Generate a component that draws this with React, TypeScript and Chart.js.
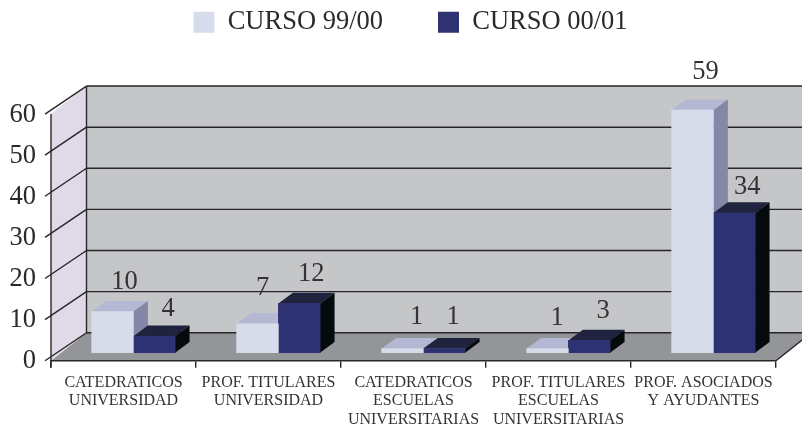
import React, { useEffect, useRef } from "react";
import { Chart, registerables } from "chart.js";

Chart.register(...registerables);

const categories: string[][] = [
  ["CATEDRATICOS", "UNIVERSIDAD"],
  ["PROF. TITULARES", "UNIVERSIDAD"],
  ["CATEDRATICOS", "ESCUELAS", "UNIVERSITARIAS"],
  ["PROF. TITULARES", "ESCUELAS", "UNIVERSITARIAS"],
  ["PROF. ASOCIADOS", "Y AYUDANTES"],
];
const curso9900 = [10, 7, 1, 1, 59];
const curso0001 = [4, 12, 1, 3, 34];
const seriesNames = ["CURSO 99/00", "CURSO 00/01"];
const gridValues = [0, 10, 20, 30, 40, 50, 60];

const SERIF = "'Liberation Serif', 'Times New Roman', serif";
const INK = "#2a2a2c";
const LINE = "#26262a";

// projection of the 3D look, in px
const FLOOR_FRONT = 8; // front floor edge below the bars' base
const FLOOR_BACK = 20; // back floor edge above the bars' base
const WALL_DX = 35.5;
const BAR_DX = 14.5;
const BAR_DY = 10.7;

const faces = [
  { top: "#b4b8d3", side: "#8488a6" },
  { top: "#20233d", side: "#050a0c" },
];
// fine adjustment of the value labels: [series][category] => [dx, dy]
const labelNudge: number[][][] = [
  [[12, -30], [5, -36], [14, -31.5], [9.5, -31], [13, -38]],
  [[14, -27], [12, -29], [9, -31.5], [14, -29], [13, -26]],
];

const poly = (ctx: CanvasRenderingContext2D, pts: number[][], fill: string) => {
  ctx.beginPath();
  pts.forEach((p, i) => (i ? ctx.lineTo(p[0], p[1]) : ctx.moveTo(p[0], p[1])));
  ctx.closePath();
  ctx.fillStyle = fill;
  ctx.fill();
};

const stagePlugin = {
  id: "stage",
  beforeDraw(chart: any) {
    const { ctx, width, chartArea } = chart;
    const y = chart.scales.y;
    const L = chartArea.left;
    const R = chartArea.right;
    const bL = L + WALL_DX;
    const front = (v: number) => y.getPixelForValue(v) + FLOOR_FRONT;
    const back = (v: number) => y.getPixelForValue(v) - FLOOR_BACK;
    const top = gridValues[gridValues.length - 1];
    ctx.save();
    poly(ctx, [[bL, back(top)], [width, back(top)], [width, back(0)], [bL, back(0)]], "#c5c6c8");
    poly(ctx, [[L, front(top)], [bL, back(top)], [bL, back(0)], [L, front(0)]], "#dfd9e8");
    poly(ctx, [[L, front(0)], [bL, back(0)], [R + WALL_DX, back(0)], [R, front(0)]], "#939598");
    ctx.strokeStyle = LINE;
    ctx.lineWidth = 1.4;
    const seg = (a: number, b: number, c: number, d: number) => {
      ctx.beginPath();
      ctx.moveTo(a, b);
      ctx.lineTo(c, d);
      ctx.stroke();
    };
    gridValues.forEach((v) => {
      seg(bL, back(v), width, back(v));
      seg(L - 6, front(v), bL, back(v));
    });
    seg(L, front(top), L, front(0) + 7);
    seg(bL, back(top), bL, back(0));
    seg(R, front(0), R + WALL_DX, back(0));
    ctx.restore();
  },
  beforeDatasetsDraw(chart: any) {
    const { ctx } = chart;
    // depth faces, series by series, so that the right-hand bars cover the side of the left ones
    [0, 1].forEach((index) => {
      const f = faces[index];
      chart.getDatasetMeta(index).data.forEach((el: any) => {
        const { x, y, base, width } = el.getProps(["x", "y", "base", "width"], true);
        const l = x - width / 2;
        const r = x + width / 2;
        poly(ctx, [[l, y], [r, y], [r + BAR_DX, y - BAR_DY], [l + BAR_DX, y - BAR_DY]], f.top);
        poly(ctx, [[r, y], [r + BAR_DX, y - BAR_DY], [r + BAR_DX, base - BAR_DY], [r, base]], f.side);
      });
    });
  },
  afterDatasetsDraw(chart: any) {
    const { ctx } = chart;
    ctx.save();
    ctx.font = `26.5px ${SERIF}`;
    ctx.fillStyle = "#333335";
    ctx.textAlign = "center";
    ctx.textBaseline = "middle";
    chart.data.datasets.forEach((ds: any, i: number) => {
      chart.getDatasetMeta(i).data.forEach((el: any, j: number) => {
        const { x, y } = el.getProps(["x", "y"], true);
        ctx.fillText(String(ds.data[j].y), x + labelNudge[i][j][0], y + labelNudge[i][j][1]);
      });
    });
    ctx.restore();
  },
};

export default function App() {
  const ref = useRef<HTMLCanvasElement>(null);
  useEffect(() => {
    const chart = new Chart(ref.current as HTMLCanvasElement, {
      type: "bar",
      data: {
        labels: categories as any,
        datasets: [
          {
            label: seriesNames[0],
            data: curso9900.map((v, i) => ({ x: i, y: v })),
            backgroundColor: "#d6dcea",
            xAxisID: "xBars",
            yAxisID: "y",
            barThickness: 41.7,
          },
          {
            label: seriesNames[1],
            data: curso0001.map((v, i) => ({ x: i, y: v })),
            backgroundColor: "#2f3272",
            xAxisID: "xBars",
            yAxisID: "y",
            barThickness: 41.7,
          },
        ] as any,
      },
      options: {
        animation: false,
        responsive: false,
        layout: { padding: { left: 45, right: 26, top: -46, bottom: 0 } },
        plugins: {
          tooltip: { enabled: false },
          title: {
            display: true,
            text: "",
            weight: 500,
            font: { size: 10, lineHeight: 1 },
            padding: { top: 15.1, bottom: 15.2 },
          },
          legend: {
            display: true,
            position: "top",
            labels: {
              boxWidth: 21,
              boxHeight: 21,
              padding: 55,
              color: INK,
              font: { family: SERIF, size: 26.5 },
            },
          } as any,
        },
        scales: {
          x: {
            type: "category",
            position: "bottom",
            offset: true,
            grid: { offset: true, drawOnChartArea: false, tickLength: 7, color: LINE, lineWidth: 1.4 },
            border: { display: true, color: LINE, width: 1.6 },
            ticks: {
              autoSkip: false,
              maxRotation: 0,
              minRotation: 0,
              padding: 6,
              color: "#333335",
              font: { family: SERIF, size: 16, lineHeight: 1.145 },
            },
            afterFit: (s: any) => {
              s.height = 65.3;
            },
          },
          xBars: {
            type: "linear",
            display: false,
            offset: false,
            grid: { offset: false },
            min: -0.568,
            max: 4.432,
          },
          y: { type: "linear", display: false, min: -1.94, max: 64.93 },
          yAxis: {
            type: "linear",
            position: "left",
            display: true,
            min: 0,
            max: 67.1,
            grid: { display: false, drawTicks: false },
            border: { display: false },
            afterBuildTicks: (s: any) => {
              s.ticks = gridValues.map((value) => ({ value }));
            },
            ticks: {
              autoSkip: false,
              // mirrored so that the labels are not clipped to the narrow axis box
              mirror: true,
              crossAlign: "far",
              padding: -41.5,
              color: INK,
              font: { family: SERIF, size: 26.5 },
            },
            afterFit: (s: any) => {
              s.width = 6;
            },
          },
        },
      } as any,
      plugins: [stagePlugin as any],
    });
    return () => chart.destroy();
  }, []);
  return (
    <div style={{ position: "absolute", left: 0, top: 0, width: 802, height: 426, background: "#fff" }}>
      <canvas ref={ref} width={802} height={426} style={{ display: "block" }} />
    </div>
  );
}
